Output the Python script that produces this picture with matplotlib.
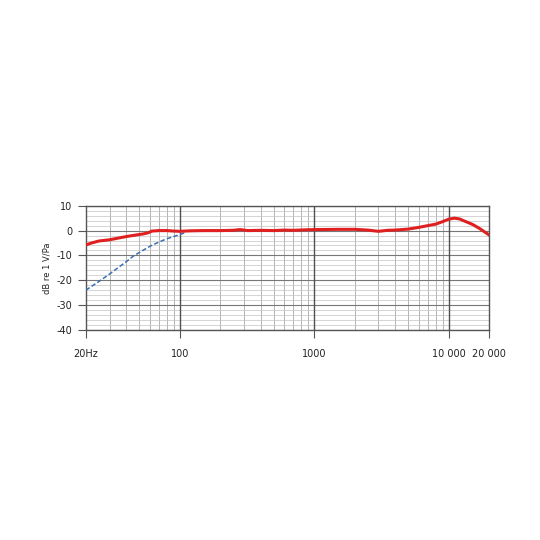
import matplotlib.pyplot as plt
import numpy as np
from matplotlib.ticker import FixedLocator, NullFormatter

plt.rcParams['axes.unicode_minus'] = False

# frequency response (dB re 1 V/Pa)
freq_main = [20, 22, 25, 30, 35, 40, 47, 54, 58, 62, 70, 80, 90, 100, 120, 150, 200,
             250, 280, 320, 400, 500, 600, 700, 850, 1000, 1500, 2000, 2500, 3000,
             3500, 4000, 5000, 6000, 7000, 8000, 9000, 10000, 11000, 12000, 13000,
             15000, 17000, 20000]
db_main = [-5.8, -5.0, -4.2, -3.7, -3.0, -2.4, -1.8, -1.3, -0.9, -0.2, 0.0, 0.0, -0.2,
           -0.3, -0.1, 0.0, 0.0, 0.1, 0.4, 0.0, 0.1, 0.0, 0.2, 0.1, 0.3, 0.4, 0.5,
           0.5, 0.2, -0.3, 0.1, 0.2, 0.6, 1.3, 2.0, 2.6, 3.6, 4.6, 5.0, 4.7, 3.9,
           2.5, 0.8, -1.8]

freq_low = [20, 25, 30, 35, 40, 45, 50, 60, 70, 80, 90, 100, 110]
db_low = [-24.0, -20.5, -17.5, -14.8, -12.5, -10.3, -8.8, -6.3, -4.6, -3.3, -2.4, -1.6, -0.8]

xtick_vals = [20, 100, 1000, 10000, 20000]
xtick_labels = ['20Hz', '100', '1000', '10 000', '20 000']
ytick_vals = [10, 0, -10, -20, -30, -40]

fig = plt.figure(figsize=(5.4, 5.4), dpi=100)
ax = fig.add_axes([0.159, 0.389, 0.747, 0.230])

ax.set_xscale('log')
ax.set_xlim(20, 20000)
ax.set_ylim(-40, 10)

# grid: minor lines every 2 dB, darker every 10 dB
minor_x = [m * 10 ** d for d in range(1, 5) for m in range(2, 10) if 20 <= m * 10 ** d <= 20000]
for x in minor_x:
    ax.axvline(x, color='#a8a8a8', lw=0.6, zorder=1)
for y in np.arange(-40, 11, 2):
    ax.axhline(y, color='#c4c4c4', lw=0.5, zorder=1)
for y in ytick_vals:
    ax.axhline(y, color='#777777', lw=0.8, zorder=1)
for x in [100, 1000, 10000]:
    ax.axvline(x, color='#505050', lw=1.0, zorder=2)

ax.plot(freq_low, db_low, color='#3a6fb0', lw=1.1, ls=(0, (3, 1.5)), zorder=3)
ax.plot(freq_main, db_main, color='#e02020', lw=2.2, zorder=4)

ax.xaxis.set_major_locator(FixedLocator(xtick_vals))
ax.xaxis.set_minor_locator(FixedLocator([]))
ax.xaxis.set_minor_formatter(NullFormatter())
ax.set_xticklabels(xtick_labels)
ax.set_yticks(ytick_vals)
ax.tick_params(axis='both', labelsize=7, color='#555555', length=6, width=0.8,
               labelcolor='#222222')
ax.tick_params(axis='x', pad=8)

for s in ax.spines.values():
    s.set_color('#555555')
    s.set_linewidth(1.0)

ax.set_ylabel('dB re 1 V/Pa', fontsize=6, color='#222222', labelpad=4)

fig.savefig('out.png', dpi=100, facecolor='white')
